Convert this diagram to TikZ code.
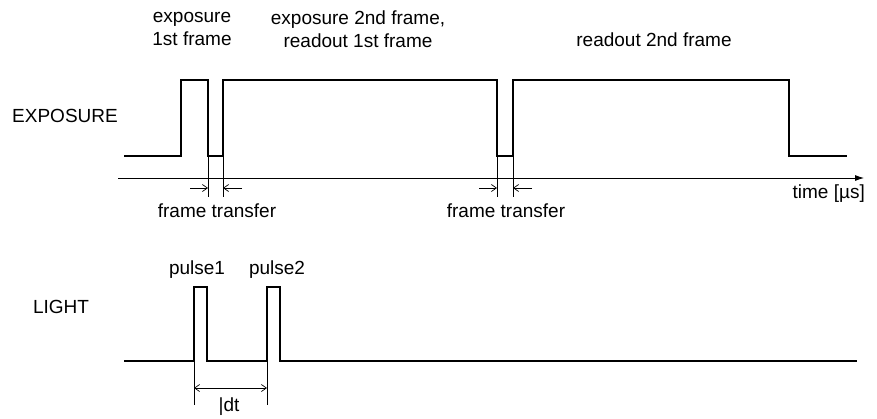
\documentclass[tikz,border=0pt]{standalone}
\usepackage{fontspec}
\setmainfont{Liberation Sans}
\usetikzlibrary{arrows.meta}

\begin{document}
\begin{tikzpicture}[
x=1pt, y=-1pt,
font=\fontsize{19}{23}\selectfont,
wave/.style={line width=2pt, line join=miter},
guide/.style={line width=0.6pt},
axis/.style={-{Latex[length=9pt, width=6pt]}, line width=0.8pt},
dim/.style={-{Straight Barb[length=5pt, width=7pt]}, line width=0.7pt},
lbl/.style={align=center, inner sep=0pt}
]
\useasboundingbox (0,0) rectangle (877,418);

% signal names
\node[lbl] (exp) at (65,116) {EXPOSURE};
\node[lbl] (light) at (61,307) {LIGHT};

% phase labels above the exposure trace
\node[lbl] (ph1) at (192,29) {exposure\\1st frame};
\node[lbl] (ph2) at (358,29) {exposure 2nd frame,\\readout 1st frame};
\node[lbl] (ph3) at (654,40) {readout 2nd frame};

% exposure trace
\draw[wave] (124,156) -- (181,156) -- (181,80) -- (208,80) -- (208,156)
  -- (223,156) -- (223,80) -- (497,80) -- (497,156) -- (513,156)
  -- (513,80) -- (789,80) -- (789,156) -- (847,156);

% time axis
\coordinate (t0) at (118,178);
\coordinate (t1) at (864,178);
\draw[axis] (t0) -- (t1);
\node[lbl, anchor=east] (time) at (865,194) {time [µs]};

% frame transfer gaps
\foreach \xa/\xb/\n in {208/223/1, 497/513/2} {
  \coordinate (ft\n a) at (\xa,156);
  \coordinate (ft\n b) at (\xb,156);
  \coordinate (ft\n c) at (\xa,197);
  \coordinate (ft\n d) at (\xb,197);
  \coordinate (ft\n l) at (\xa-18,188);
  \coordinate (ft\n r) at (\xb+19,188);
  \draw[guide] (ft\n a) -- (ft\n c);
  \draw[guide] (ft\n b) -- (ft\n d);
  \draw[dim] (ft\n l) -- (ft\n a |- ft\n l);
  \draw[dim] (ft\n r) -- (ft\n b |- ft\n r);
}
\node[lbl] (ftlbl1) at (217,211) {frame transfer};
\node[lbl] (ftlbl2) at (506,211) {frame transfer};

% light trace
\draw[wave] (124,361) -- (194,361) -- (194,287) -- (207,287) -- (207,361)
  -- (267,361) -- (267,287) -- (280,287) -- (280,361) -- (857,361);
\node[lbl] (p1) at (197,270) {pulse1};
\node[lbl] (p2) at (277,270) {pulse2};

% pulse spacing
\coordinate (dta) at (194,361);
\coordinate (dtb) at (267,361);
\coordinate (dtc) at (194,405);
\coordinate (dtd) at (267,405);
\draw[guide] (dta) -- (dtc);
\draw[guide] (dtb) -- (dtd);
\draw[dim, {Straight Barb[length=5pt, width=7pt]}-{Straight Barb[length=5pt, width=7pt]}] (194,388) coordinate (dtl) -- (267,388) coordinate (dtr);
\node[lbl] (dt) at (229,407) {|dt};
\end{tikzpicture}
\end{document}
